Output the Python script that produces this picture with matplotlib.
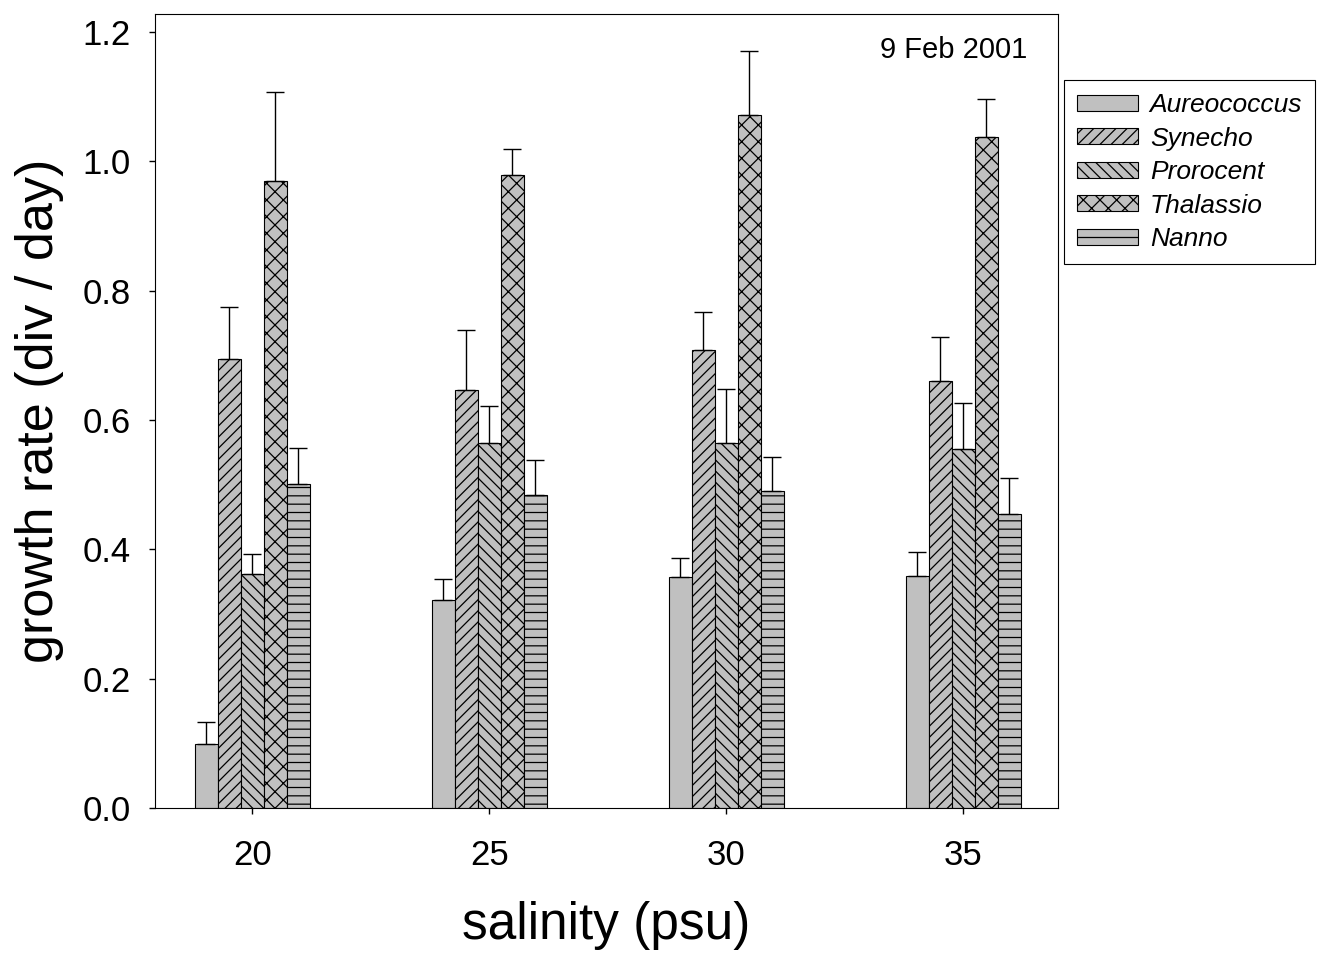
import matplotlib.pyplot as plt
from matplotlib.patches import Patch
import numpy as np

plt.rcParams['font.family'] = ['Liberation Sans', 'DejaVu Sans']
plt.rcParams['hatch.linewidth'] = 0.9

salinity = [20, 25, 30, 35]
species = ['Aureococcus', 'Synecho', 'Prorocent', 'Thalassio', 'Nanno']
hatches = ['', '///', '\\\\\\', 'xx', '--']

# mean growth rates (div / day)
aureococcus = [0.099, 0.322, 0.357, 0.359]
synecho = [0.694, 0.646, 0.708, 0.660]
prorocent = [0.362, 0.564, 0.564, 0.555]
thalassio = [0.970, 0.979, 1.072, 1.038]
nanno = [0.501, 0.484, 0.490, 0.455]

# upper error bars only
aureococcus_err = [0.034, 0.032, 0.030, 0.037]
synecho_err = [0.081, 0.093, 0.059, 0.068]
prorocent_err = [0.031, 0.058, 0.084, 0.071]
thalassio_err = [0.137, 0.040, 0.099, 0.058]
nanno_err = [0.056, 0.054, 0.053, 0.055]

means = [aureococcus, synecho, prorocent, thalassio, nanno]
errs = [aureococcus_err, synecho_err, prorocent_err, thalassio_err, nanno_err]

fig = plt.figure(figsize=(13.23, 9.57), dpi=100)
ax = fig.add_axes([155 / 1323, 1 - 808 / 957, 903 / 1323, 794 / 957])

width = 0.485
x = np.array(salinity, dtype=float)
for i, (m, e, h) in enumerate(zip(means, errs, hatches)):
    pos = x + (i - 2) * width
    ax.bar(pos, m, width=width, color='#c0c0c0', edgecolor='black',
           linewidth=0.8, hatch=h, zorder=2)
    ax.errorbar(pos, m, yerr=[np.zeros(4), e], fmt='none', ecolor='black',
                elinewidth=1, capsize=6.5, capthick=1, zorder=3)

ax.set_xlim(17.95, 37.0)
ax.set_ylim(0, 1.228)
ax.set_xticks(salinity)
ax.set_yticks([0.0, 0.2, 0.4, 0.6, 0.8, 1.0, 1.2])
ax.set_yticklabels(['0.0', '0.2', '0.4', '0.6', '0.8', '1.0', '1.2'])
ax.tick_params(labelsize=25, direction='out', length=4.5, width=1, pad=13)
ax.tick_params(axis='x', pad=18)
ax.set_xlabel('salinity (psu)', fontsize=37, labelpad=21)
ax.set_ylabel('growth rate (div / day)', fontsize=37.5, labelpad=13)

ax.text(0.966, 0.972, '9 Feb 2001', transform=ax.transAxes, fontsize=21,
        ha='right', va='top')

handles = [Patch(facecolor='#c0c0c0', edgecolor='black', linewidth=0.8, hatch=h)
           for h in hatches]
leg = fig.legend(handles, species, loc='upper left',
                 bbox_to_anchor=(1064 / 1323, 1 - 80 / 957),
                 prop={'size': 19, 'style': 'italic'}, fancybox=False,
                 edgecolor='black', framealpha=1, handlelength=2.3,
                 handleheight=0.55, labelspacing=0.36, borderpad=0.5,
                 handletextpad=0.45, borderaxespad=0)
leg.get_frame().set_linewidth(0.8)

fig.savefig('out.png', dpi=100)
